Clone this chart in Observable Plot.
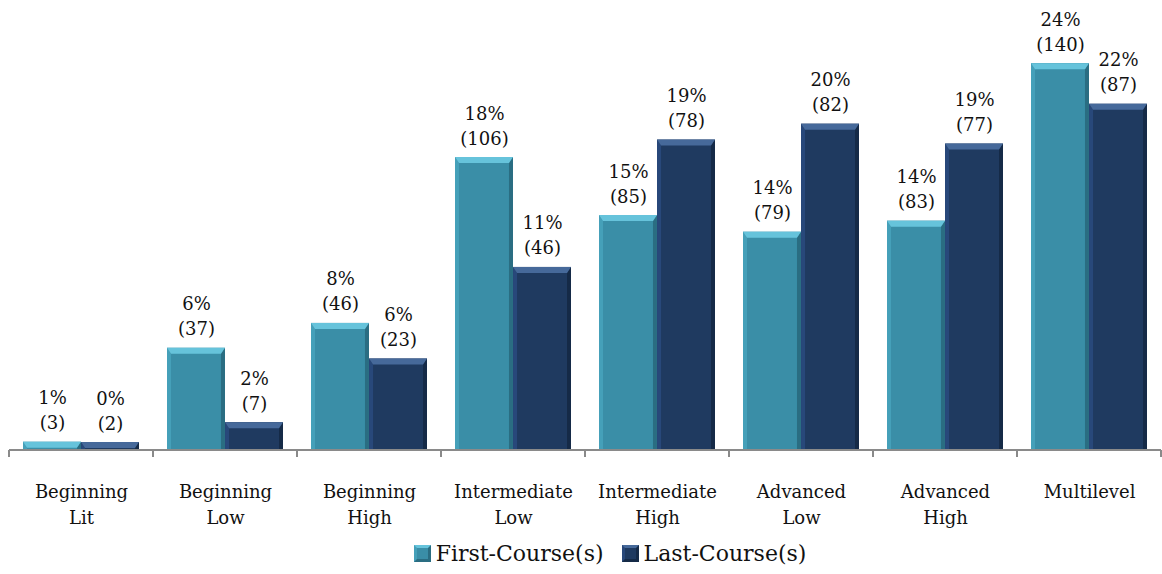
<!DOCTYPE html>
<html>
<head>
<meta charset="utf-8">
<script src="https://cdn.jsdelivr.net/npm/d3@7"></script>
<script src="https://cdn.jsdelivr.net/npm/@observablehq/plot@0.6"></script>
<style>
  body { margin: 0; background: #fff; font-family: "DejaVu Serif", serif; }
  #legend { display: flex; justify-content: center; align-items: center; height: 42px; padding-left: 58px; font-size: 22px; color: #111; }
  #legend .item { display: flex; align-items: center; margin: 0 9px; }
  #legend .sw { width: 17px; height: 17px; box-sizing: border-box; border: 3px solid; margin-right: 5px; }
</style>
</head>
<body>
<div id="chart"></div>
<div id="legend"></div>
<script>
// Course levels and their two-line axis labels
const categories = ["Beginning Lit", "Beginning Low", "Beginning High", "Intermediate Low",
                    "Intermediate High", "Advanced Low", "Advanced High", "Multilevel"];
const categoryLabels = ["Beginning\nLit", "Beginning\nLow", "Beginning\nHigh", "Intermediate\nLow",
                        "Intermediate\nHigh", "Advanced\nLow", "Advanced\nHigh", "Multilevel"];
const seriesNames = ["First-Course(s)", "Last-Course(s)"];

// Number of students per level
const firstCounts = [3, 37, 46, 106, 85, 79, 83, 140];
const lastCounts  = [2, 7, 23, 46, 78, 82, 77, 87];

// Fill, bevel-top, bevel-side, bevel-left colours per series
const seriesColors = ["#3A8EA7", "#1F3A60"];
const bevelTop = ["#66C3DB", "#46699A"];
const bevelRight = ["#2A6D82", "#152A47"];
const bevelLeft = ["#45A0B9", "#28487A"];

// Layout
const width = 1162, height = 532;
const marginTop = 50, marginBottom = 82, marginLeft = 9, marginRight = 1;
const groupPadding = 0.194;
const yMax = 25;

const step = (width - marginLeft - marginRight) / categories.length;
const band = step * (1 - groupPadding);
const half = band / 2;

function toRows(counts, s) {
  const total = d3.sum(counts);
  return categories.map((c, i) => ({
    category: c,
    series: seriesNames[s],
    count: counts[i],
    pct: counts[i] / total * 100
  }));
}
const firstRows = toRows(firstCounts, 0);
const lastRows = toRows(lastCounts, 1);

const labelText = d => `${Math.round(d.pct)}%\n(${d.count})`;

// Adds a bevelled edge on each rendered bar
function bevel(s) {
  return function (index, scales, values, dimensions, context, next) {
    const g = next(index, scales, values, dimensions, context);
    const ns = "http://www.w3.org/2000/svg";
    g.querySelectorAll("rect").forEach(r => {
      const x = +r.getAttribute("x"), y = +r.getAttribute("y");
      const w = +r.getAttribute("width"), h = +r.getAttribute("height");
      const b = Math.min(6, h), e = Math.min(4, w / 2);
      const polys = [
        [`${x},${y} ${x + e},${y + b} ${x + e},${y + h} ${x},${y + h}`, bevelLeft[s]],
        [`${x + w},${y} ${x + w},${y + h} ${x + w - e},${y + h} ${x + w - e},${y + b}`, bevelRight[s]],
        [`${x},${y} ${x + w},${y} ${x + w - e},${y + b} ${x + e},${y + b}`, bevelTop[s]]
      ];
      for (const [pts, fill] of polys) {
        const p = document.createElementNS(ns, "polygon");
        p.setAttribute("points", pts);
        p.setAttribute("fill", fill);
        r.parentNode.appendChild(p);
      }
    });
    return g;
  };
}

// Baseline with tick marks at the category boundaries
function baseline(index, scales, values, dimensions) {
  const ns = "http://www.w3.org/2000/svg";
  const g = document.createElementNS(ns, "g");
  g.setAttribute("stroke", "#8A8A8A");
  g.setAttribute("stroke-width", 2);
  const y0 = scales.y(0);
  const x0 = dimensions.marginLeft, x1 = dimensions.width - dimensions.marginRight;
  const st = scales.x(categories[1]) - scales.x(categories[0]);
  const line = document.createElementNS(ns, "line");
  line.setAttribute("x1", x0); line.setAttribute("x2", x1);
  line.setAttribute("y1", y0); line.setAttribute("y2", y0);
  g.appendChild(line);
  for (let i = 0; i <= categories.length; i++) {
    const x = i === categories.length ? x1 : x0 + i * st;
    const t = document.createElementNS(ns, "line");
    t.setAttribute("x1", x); t.setAttribute("x2", x);
    t.setAttribute("y1", y0); t.setAttribute("y2", y0 + 7);
    g.appendChild(t);
  }
  return g;
}

const textStyle = {fontSize: 18, fill: "#111", lineHeight: 1.39, lineAnchor: "bottom", dy: -13, text: labelText};

const chart = Plot.plot({
  width, height, marginTop, marginBottom, marginLeft, marginRight,
  style: {fontFamily: "DejaVu Serif, serif", background: "#fff"},
  x: {domain: categories, paddingInner: groupPadding, paddingOuter: groupPadding / 2, align: 0.5, label: null},
  y: {domain: [0, yMax], axis: null},
  marks: [
    Plot.barY(firstRows, {x: "category", y: "pct", fill: seriesColors[0], insetRight: half, render: bevel(0)}),
    Plot.barY(lastRows, {x: "category", y: "pct", fill: seriesColors[1], insetLeft: half, render: bevel(1)}),
    baseline,
    Plot.text(firstRows, {x: "category", y: "pct", dx: -half / 2, ...textStyle}),
    Plot.text(lastRows, {x: "category", y: "pct", dx: half / 2, ...textStyle}),
    Plot.axisX({tickSize: 0, tickPadding: 29, fontSize: 18, lineHeight: 1.45, fill: "#111", label: null,
                tickFormat: d => categoryLabels[categories.indexOf(d)]})
  ]
});
document.getElementById("chart").appendChild(chart);

// Legend
const legend = document.getElementById("legend");
seriesNames.forEach((name, i) => {
  const item = document.createElement("span");
  item.className = "item";
  const sw = document.createElement("span");
  sw.className = "sw";
  sw.style.background = seriesColors[i];
  sw.style.borderColor = `${bevelTop[i]} ${bevelRight[i]} ${bevelRight[i]} ${bevelLeft[i]}`;
  item.appendChild(sw);
  item.appendChild(document.createTextNode(name));
  legend.appendChild(item);
});
</script>
</body>
</html>
